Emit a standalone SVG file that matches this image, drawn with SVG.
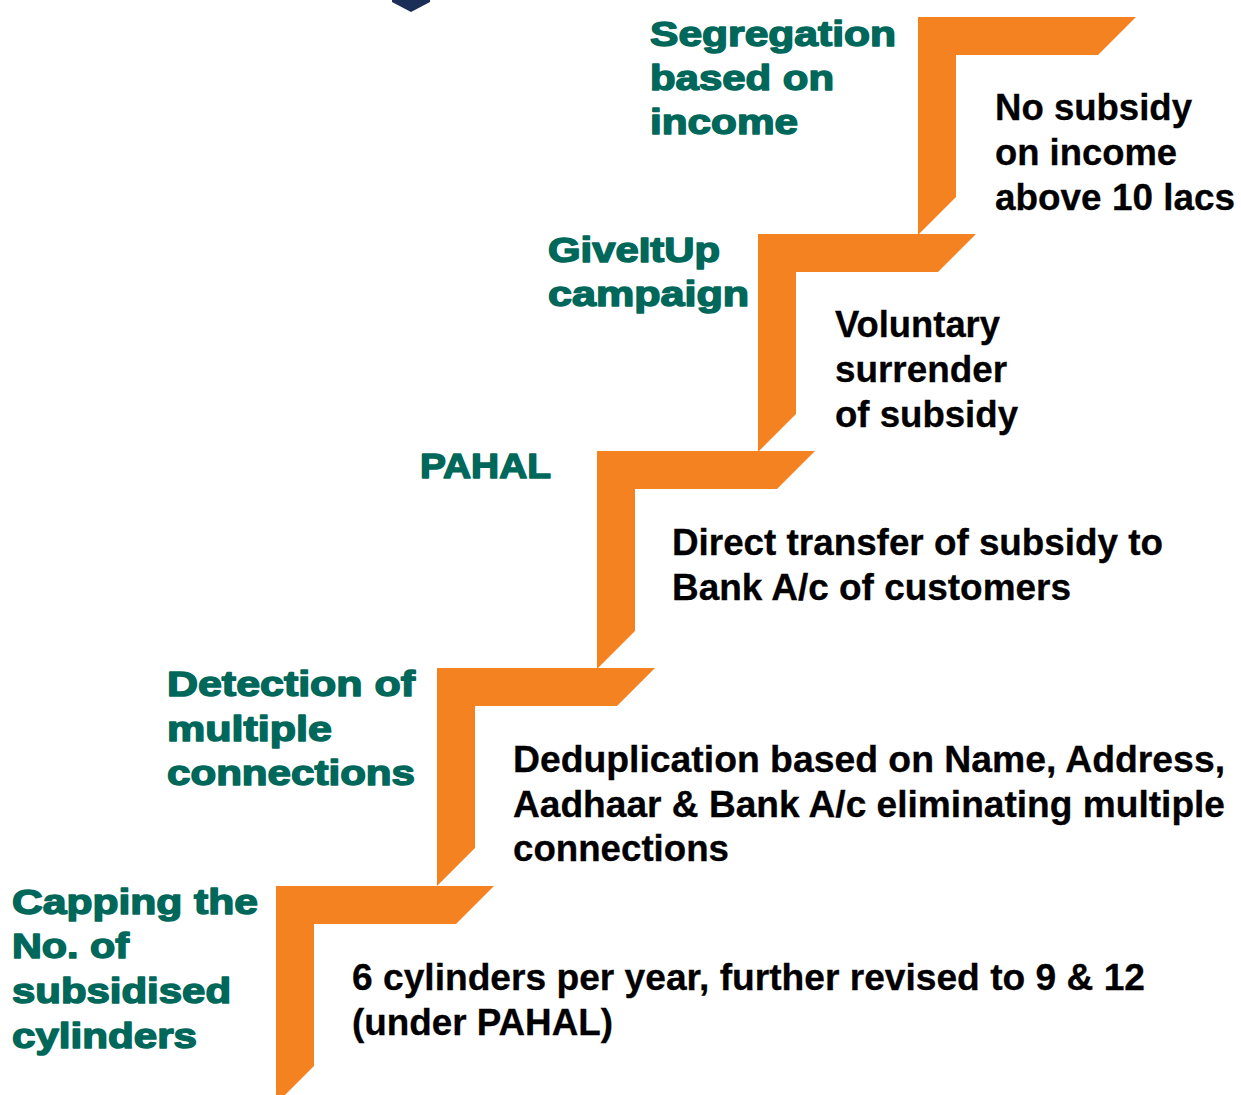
<svg xmlns="http://www.w3.org/2000/svg" xmlns:xlink="http://www.w3.org/1999/xlink" width="1241" height="1095" viewBox="0 0 1241 1095">
  <style>
    .h { font-family: "Liberation Sans", Arial, sans-serif; font-weight: bold; font-size: 35px; fill: #00685a; stroke: #00685a; stroke-width: 1.5px; stroke-linejoin: round; }
    .b { font-family: "Liberation Sans", Arial, sans-serif; font-weight: bold; font-size: 36px; fill: #000; stroke: #000; stroke-width: 0.3px; }
    .step { fill: #f58220; }
  </style>
  <defs>
    <polygon id="stepShape" points="0,0 218,0 180,38 38,38 38,180 0,218"/>
  </defs>
  <rect width="1241" height="1095" fill="#fff"/>
  <g id="topMark">
    <polygon points="392,0 430,0 430,2 411,12 392,2" fill="#1b2e57"/>
  </g>
  <g id="step1">
    <use xlink:href="#stepShape" href="#stepShape" class="step" x="918" y="17"/>
    <text class="h" x="650" y="46" textLength="246" lengthAdjust="spacingAndGlyphs">Segregation</text>
    <text class="h" x="650" y="90" textLength="184" lengthAdjust="spacingAndGlyphs">based on</text>
    <text class="h" x="650" y="134" textLength="148" lengthAdjust="spacingAndGlyphs">income</text>
    <text class="b" x="995" y="120" textLength="197" lengthAdjust="spacingAndGlyphs">No subsidy</text>
    <text class="b" x="995" y="165" textLength="182" lengthAdjust="spacingAndGlyphs">on income</text>
    <text class="b" x="995" y="210" textLength="240" lengthAdjust="spacingAndGlyphs">above 10 lacs</text>
  </g>
  <g id="step2">
    <use xlink:href="#stepShape" href="#stepShape" class="step" x="758" y="234"/>
    <text class="h" x="548" y="262" textLength="172" lengthAdjust="spacingAndGlyphs">GiveItUp</text>
    <text class="h" x="548" y="306" textLength="201" lengthAdjust="spacingAndGlyphs">campaign</text>
    <text class="b" x="835" y="337" textLength="165" lengthAdjust="spacingAndGlyphs">Voluntary</text>
    <text class="b" x="835" y="382" textLength="172" lengthAdjust="spacingAndGlyphs">surrender</text>
    <text class="b" x="835" y="427" textLength="183" lengthAdjust="spacingAndGlyphs">of subsidy</text>
  </g>
  <g id="step3">
    <use xlink:href="#stepShape" href="#stepShape" class="step" x="597" y="451"/>
    <text class="h" x="420" y="478" textLength="131" lengthAdjust="spacingAndGlyphs">PAHAL</text>
    <text class="b" x="672" y="555" textLength="491" lengthAdjust="spacingAndGlyphs">Direct transfer of subsidy to</text>
    <text class="b" x="672" y="600" textLength="399" lengthAdjust="spacingAndGlyphs">Bank A/c of customers</text>
  </g>
  <g id="step4">
    <use xlink:href="#stepShape" href="#stepShape" class="step" x="437" y="668"/>
    <text class="h" x="167" y="696" textLength="248" lengthAdjust="spacingAndGlyphs">Detection of</text>
    <text class="h" x="167" y="741" textLength="165" lengthAdjust="spacingAndGlyphs">multiple</text>
    <text class="h" x="167" y="785" textLength="248" lengthAdjust="spacingAndGlyphs">connections</text>
    <text class="b" x="513" y="772" textLength="712" lengthAdjust="spacingAndGlyphs">Deduplication based on Name, Address,</text>
    <text class="b" x="513" y="817" textLength="712" lengthAdjust="spacingAndGlyphs">Aadhaar &amp; Bank A/c eliminating multiple</text>
    <text class="b" x="513" y="861" textLength="216" lengthAdjust="spacingAndGlyphs">connections</text>
  </g>
  <g id="step5">
    <use xlink:href="#stepShape" href="#stepShape" class="step" x="276" y="886"/>
    <text class="h" x="12" y="914" textLength="246" lengthAdjust="spacingAndGlyphs">Capping the</text>
    <text class="h" x="12" y="958" textLength="117" lengthAdjust="spacingAndGlyphs">No. of</text>
    <text class="h" x="12" y="1003" textLength="219" lengthAdjust="spacingAndGlyphs">subsidised</text>
    <text class="h" x="12" y="1048" textLength="185" lengthAdjust="spacingAndGlyphs">cylinders</text>
    <text class="b" x="352" y="990" textLength="793" lengthAdjust="spacingAndGlyphs">6 cylinders per year, further revised to 9 &amp; 12</text>
    <text class="b" x="352" y="1035" textLength="261" lengthAdjust="spacingAndGlyphs">(under PAHAL)</text>
  </g>
  <g id="connectors"></g>
</svg>
